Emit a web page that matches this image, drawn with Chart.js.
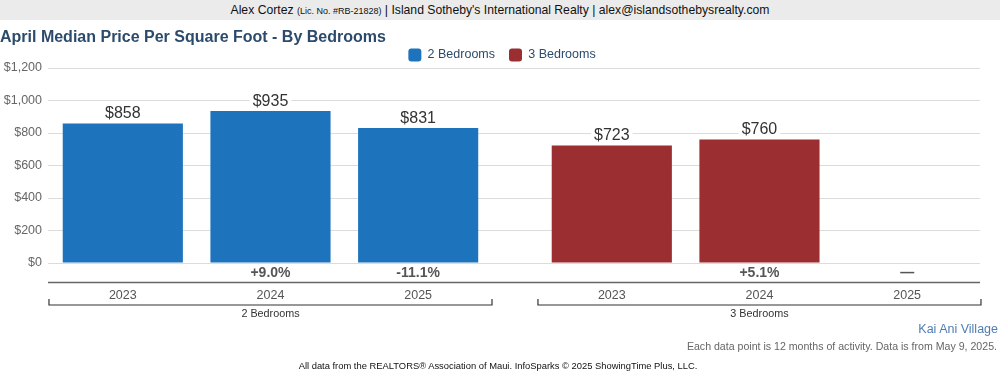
<!DOCTYPE html>
<html>
<head>
<meta charset="utf-8">
<script src="https://cdn.jsdelivr.net/npm/chart.js@4/dist/chart.umd.min.js"></script>
<style>
  html, body { margin: 0; padding: 0; background: #fff; }
  body { width: 1000px; height: 375px; position: relative; overflow: hidden; font-family: 'Liberation Sans', Arial, sans-serif; }
  .top-bar { position: absolute; left: 0; top: 0; width: 1000px; height: 20px; background: #ebebeb; text-align: center; font-size: 12.2px; line-height: 20px; color: #111; }
  .top-bar small { font-size: 9px; }
  .chart-box { position: absolute; left: 0; top: 20px; width: 1000px; height: 355px; }
  .area-name { position: absolute; right: 2px; top: 322px; font-size: 12.5px; color: #4f7db3; }
  .note { position: absolute; right: 3px; top: 340px; font-size: 10.6px; color: #666; }
  .source { position: absolute; left: 0; width: 996px; top: 360px; text-align: center; font-size: 9.4px; color: #111; }
</style>
</head>
<body>
<div class="top-bar">Alex Cortez <small>(Lic. No. #RB-21828)</small> | Island Sotheby's International Realty | alex@islandsothebysrealty.com</div>
<div class="chart-box"><canvas id="bedrooms"></canvas></div>
<div class="area-name">Kai Ani Village</div>
<div class="note">Each data point is 12 months of activity. Data is from May 9, 2025.</div>
<div class="source">All data from the REALTORS® Association of Maui. InfoSparks © 2025 ShowingTime Plus, LLC.</div>
<script>
const groups = ['2 Bedrooms', '3 Bedrooms'];
const groupColors = ['#1e74bc', '#9a2e31'];
const years = ['2023', '2024', '2025'];
// median $/sqft per group, one entry per year
const price2Bed = [858, 935, 831];
const price3Bed = [723, 760, null];
// year-over-year change labels shown under the bars
const change2Bed = ['', '+9.0%', '-11.1%'];
const change3Bed = ['', '+5.1%', '—'];
const yTicks = [0, 200, 400, 600, 800, 1000, 1200];

const prices = [price2Bed, price3Bed];
const changes = [change2Bed, change3Bed];

const FONT = "'Liberation Sans', Arial, sans-serif";
const CAT_PCT = 0.906;
const BAR_PCT = 0.8136;

// legend keeps its 14px item gap but not all the space underneath
const tightLegendPlugin = {
  id: 'tightLegend',
  afterInit(chart) {
    const lg = chart.legend;
    if (!lg) return;
    const fit = lg.fit.bind(lg);
    lg.fit = () => { fit(); lg.height -= 3.5; };
  },
  afterLayout(chart) {
    // nudge so the items sit centred like the original
    if (!chart.legend) return;
    chart.legend.left += 12;
    chart.legend.right += 12;
  },
};

const belowAxisPlugin = {
  id: 'belowAxis',
  afterDatasetsDraw(chart) {
    const ctx = chart.ctx;
    const area = chart.chartArea;
    const xs = chart.scales.x;
    const b = area.bottom;
    const unit = xs.getPixelForValue(1) - xs.getPixelForValue(0);
    const slot = unit * CAT_PCT / years.length;

    ctx.save();
    ctx.textAlign = 'center';
    ctx.textBaseline = 'middle';

    // value labels above bars, with white backing so grid lines break
    years.forEach((yr, yi) => {
      const meta = chart.getDatasetMeta(yi);
      meta.data.forEach((bar, gi) => {
        const v = prices[gi][yi];
        if (v == null) return;
        const txt = '$' + v;
        ctx.font = `16px ${FONT}`;
        const w = ctx.measureText(txt).width;
        const cy = bar.y - 10.5;
        ctx.fillStyle = '#fff';
        ctx.fillRect(bar.x - w / 2 - 3, cy - 8, w + 6, 16);
        ctx.fillStyle = '#333';
        ctx.fillText(txt, bar.x, cy + 1);
      });
    });

    // percent change and year labels
    years.forEach((yr, yi) => {
      groups.forEach((g, gi) => {
        const x = xs.getPixelForValue(gi) - unit * CAT_PCT / 2 + slot * (yi + 0.5);
        ctx.fillStyle = '#555';
        ctx.font = `bold 14px ${FONT}`;
        ctx.fillText(changes[gi][yi], x, b + 10);
        ctx.font = `12.5px ${FONT}`;
        ctx.fillText(yr, x, b + 33);
      });
    });

    // axis line
    ctx.strokeStyle = '#666';
    ctx.lineWidth = 1.5;
    ctx.beginPath();
    ctx.moveTo(area.left, b + 19.5);
    ctx.lineTo(area.right, b + 19.5);
    ctx.stroke();

    // group brackets
    ctx.strokeStyle = '#333';
    ctx.lineWidth = 1.2;
    groups.forEach((g, gi) => {
      const c = xs.getPixelForValue(gi);
      const l = c - unit * CAT_PCT / 2;
      const r = c + unit * CAT_PCT / 2;
      const y = b + 42;
      ctx.beginPath();
      ctx.moveTo(l, y - 6);
      ctx.lineTo(l, y);
      ctx.lineTo(r, y);
      ctx.lineTo(r, y - 6);
      ctx.stroke();
      ctx.fillStyle = '#333';
      ctx.font = `10.8px ${FONT}`;
      ctx.fillText(g, c, b + 51);
    });
    ctx.restore();
  },
};

new Chart(document.getElementById('bedrooms'), {
  type: 'bar',
  data: {
    datasets: years.map((yr, yi) => ({
      label: yr,
      data: groups.map((g, gi) => ({ x: gi, y: prices[gi][yi] })),
      backgroundColor: groupColors,
      borderWidth: 0,
      categoryPercentage: CAT_PCT,
      barPercentage: BAR_PCT,
    })),
  },
  options: {
    responsive: true,
    maintainAspectRatio: false,
    animation: false,
    layout: { padding: { left: 0, right: 20, top: 2, bottom: 112 } },
    plugins: {
      title: {
        display: true,
        text: 'April Median Price Per Square Foot - By Bedrooms',
        align: 'start',
        color: '#2c4b6c',
        font: { family: FONT, size: 16, weight: 'bold' },
        padding: { top: 6, bottom: -12.7 },
      },
      legend: {
        display: true,
        position: 'top',
        align: 'center',
        labels: {
          boxWidth: 13,
          boxHeight: 13,
          useBorderRadius: true,
          borderRadius: 3,
          color: '#2c4b6c',
          font: { family: FONT, size: 12.5 },
          padding: 14,
          generateLabels: () => groups.map((g, gi) => ({
            text: g,
            fillStyle: groupColors[gi],
            strokeStyle: groupColors[gi],
            lineWidth: 0,
            fontColor: '#2c4b6c',
            borderRadius: 3,
            datasetIndex: gi,
          })),
        },
        onClick: () => {},
      },
      tooltip: { enabled: false },
    },
    scales: {
      x: {
        type: 'linear',
        min: -0.455,
        max: 1.451,
        offset: false,
        display: false,
        afterBuildTicks: (scale) => { scale.ticks = groups.map((g, gi) => ({ value: gi })); },
      },
      y: {
        min: 0,
        max: 1200,
        afterBuildTicks: (scale) => { scale.ticks = yTicks.map((v) => ({ value: v })); },
        afterFit: (scale) => { scale.width = 48; },
        ticks: {
          color: '#666',
          font: { family: FONT, size: 12.5 },
          padding: 6,
          callback: (v) => '$' + v.toLocaleString('en-US'),
        },
        grid: { color: '#dcdcdc', drawTicks: false },
        border: { display: false },
      },
    },
  },
  plugins: [tightLegendPlugin, belowAxisPlugin],
});
</script>
</body>
</html>
